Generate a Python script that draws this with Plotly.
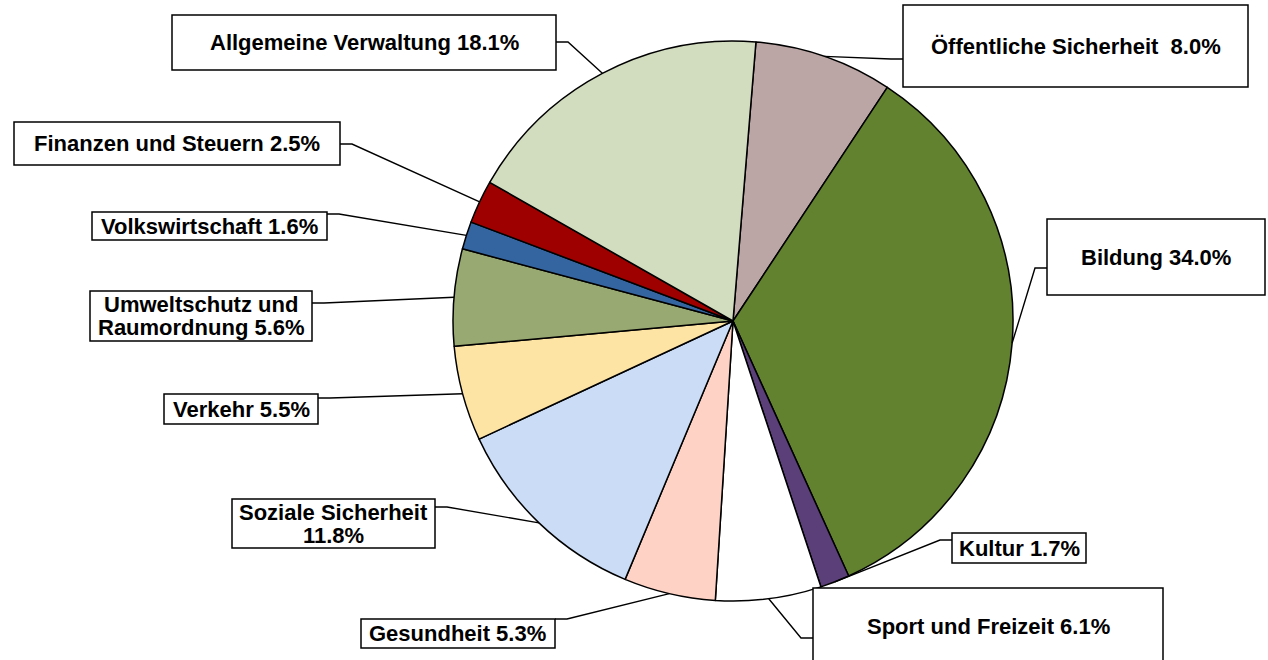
import numpy as np
import plotly.graph_objects as go

# ---------------- data ----------------
categories = [
    "Öffentliche Sicherheit", "Bildung", "Kultur", "Sport und Freizeit",
    "Gesundheit", "Soziale Sicherheit", "Verkehr",
    "Umweltschutz und Raumordnung", "Volkswirtschaft",
    "Finanzen und Steuern", "Allgemeine Verwaltung",
]
shares = [8.0, 34.0, 1.7, 6.1, 5.3, 11.8, 5.5, 5.6, 1.6, 2.5, 18.1]
# label text as shown ("|" marks where the reference wraps a label)
label_names = [
    "Öffentliche Sicherheit ", "Bildung", "Kultur", "Sport und Freizeit",
    "Gesundheit", "Soziale Sicherheit|", "Verkehr",
    "Umweltschutz und|Raumordnung", "Volkswirtschaft",
    "Finanzen und Steuern", "Allgemeine Verwaltung",
]

# ---------------- style / layout ----------------
colors = ["#bba5a5", "#62822f", "#5b3f78", "#ffffff", "#ffd2c6", "#cbdcf7",
          "#fee4a4", "#99a972", "#3465a0", "#9e0000", "#d2dcbf"]

W, H = 1268, 660
CX, CY, R = 733, 321, 280      # pie centre / radius in pixels
ROT = 4.7                      # start angle (deg, clockwise from 12 o'clock)
LINE_GAP = 23                  # px between the two lines of a wrapped label

# label boxes: (x0, y0, x1, y1, attach_y, side)  side: +1 = leader leaves right edge
boxes = [
    (903, 5, 1248, 87, 59, -1),
    (1047, 219, 1265, 295, 268, -1),
    (952, 533, 1086, 563, 540, -1),
    (813, 588, 1163, 664, 638, -1),
    (361, 619, 555, 648, 619, 1),
    (232, 499, 435, 548, 507, 1),
    (164, 394, 318, 424, 398, 1),
    (90, 291, 312, 341, 303, 1),
    (92, 212, 327, 240, 214, 1),
    (14, 122, 340, 165, 144, 1),
    (172, 15, 556, 70, 42, 1),
]

FONT = dict(family="Liberation Sans, Arial, sans-serif", size=22, color="#000000", weight="bold")

fig = go.Figure()
fig.add_trace(go.Pie(
    labels=categories,
    values=shares,
    sort=False,
    direction="clockwise",
    rotation=ROT,
    textinfo="none",
    hoverinfo="label+percent",
    marker=dict(colors=colors, line=dict(color="#000000", width=1.5)),
    domain=dict(x=[(CX - R) / W, (CX + R) / W], y=[1 - (CY + R) / H, 1 - (CY - R) / H]),
    showlegend=False,
))

total = float(np.sum(shares))
cum = np.concatenate([[0.0], np.cumsum(shares)[:-1]])
mid_angles = np.deg2rad(ROT + 360.0 * (cum + np.array(shares) / 2.0) / total)

shapes = []
annotations = []
for i, (name, val) in enumerate(zip(label_names, shares)):
    x0, y0, x1, y1, ay, side = boxes[i]
    ex = CX + R * np.sin(mid_angles[i])
    ey = CY - R * np.cos(mid_angles[i])
    axp = x1 if side == 1 else x0
    sx = axp + 12 * side
    path = "M {:.5f} {:.5f} L {:.5f} {:.5f} L {:.5f} {:.5f}".format(
        axp / W, 1 - ay / H, sx / W, 1 - ay / H, ex / W, 1 - ey / H)
    shapes.append(dict(type="path", xref="paper", yref="paper", path=path,
                       line=dict(color="#000000", width=1.4), layer="above"))
    shapes.append(dict(type="rect", xref="paper", yref="paper",
                       x0=x0 / W, x1=x1 / W, y0=1 - y1 / H, y1=1 - y0 / H,
                       fillcolor="#ffffff", line=dict(color="#000000", width=1.5),
                       layer="above"))
    if name.endswith("|"):
        lines = [name[:-1], f"{val:.1f}%"]
    elif "|" in name:
        a, b = name.split("|")
        lines = [a, f"{b} {val:.1f}%"]
    else:
        lines = [f"{name} {val:.1f}%"]
    yc = (y0 + y1) / 2
    offs = [0] if len(lines) == 1 else [-LINE_GAP / 2, LINE_GAP / 2]
    for ln, off in zip(lines, offs):
        annotations.append(dict(
            x=(x0 + x1) / 2 / W, y=1 - (yc + off) / H, xref="paper", yref="paper",
            xanchor="center", yanchor="middle", showarrow=False,
            text=ln, font=FONT, align="center",
        ))

fig.update_layout(
    width=W, height=H,
    margin=dict(l=0, r=0, t=0, b=0),
    paper_bgcolor="#ffffff", plot_bgcolor="#ffffff",
    shapes=shapes, annotations=annotations,
    showlegend=False,
)

fig.write_html("out.html", config={"displayModeBar": False},
               post_script="document.body.style.margin='0';document.body.style.overflow='hidden';")
